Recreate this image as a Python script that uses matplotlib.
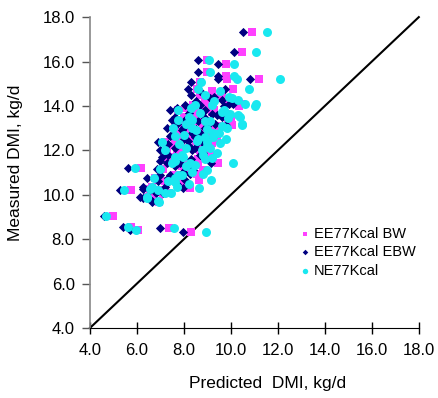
import matplotlib
matplotlib.use("Agg")
import matplotlib.pyplot as plt
import numpy as np

plt.rcParams['font.family'] = ['Liberation Sans', 'DejaVu Sans']

# measured DMI (kg/d) and predicted DMI for each method, one row per animal/period
measured = [17.33, 16.43, 16.07, 15.89, 15.53, 15.35, 15.22, 15.22, 15.08, 14.77,
            14.77, 14.68, 14.36, 14.27, 14.09, 14.00, 14.05, 13.82, 14.05, 13.73,
            13.59, 13.46, 13.64, 13.37, 13.37, 13.32, 13.19, 13.14, 13.01, 13.01,
            12.96, 13.01, 12.78, 12.65, 12.60, 12.60, 12.38, 12.42, 12.38, 12.33,
            12.02, 12.02, 12.11, 11.70, 11.70, 11.79, 11.66, 11.43, 11.43, 11.43,
            11.34, 11.21, 11.16, 11.03, 10.94, 10.89, 10.76, 10.76, 10.67, 10.58,
            10.35, 10.35, 10.31, 10.22, 10.26, 10.22, 10.08, 9.90, 9.72, 9.86,
            9.68, 9.05, 8.55, 8.41, 8.50, 8.32,
            14.50, 14.40, 14.20, 14.10, 13.90, 13.80, 13.70, 13.50, 13.50, 13.30,
            13.20, 13.10, 12.90, 12.80, 12.70, 12.50, 12.50, 12.30, 12.20, 12.10,
            11.90, 11.80, 11.60, 11.50, 11.30, 11.10, 10.90, 10.60, 10.50, 10.10]

pred_ebw = [10.51, 10.13, 8.60, 9.45, 8.60, 9.45, 9.45, 10.81, 8.30, 8.17,
            9.74, 8.68, 9.11, 9.62, 10.09, 9.70, 8.04, 7.40, 8.68, 8.81,
            9.40, 8.89, 9.19, 7.49, 8.04, 8.60, 9.32, 9.79, 7.28, 7.96,
            8.51, 8.89, 8.34, 7.40, 8.47, 8.68, 6.89, 8.17, 8.60, 8.81,
            6.98, 8.34, 8.47, 7.06, 7.62, 8.68, 8.89, 9.15, 7.28, 7.83,
            8.26, 5.60, 6.85, 7.96, 8.26, 6.98, 6.43, 7.32, 8.04, 7.32,
            6.26, 7.19, 7.96, 5.28, 6.26, 6.55, 7.11, 6.13, 6.64, 6.26,
            6.64, 4.60, 5.40, 5.70, 6.98, 7.96,
            8.30, 9.30, 8.50, 9.90, 7.70, 8.90, 8.20, 7.60, 9.60, 8.30,
            7.70, 9.00, 7.90, 8.70, 7.50, 8.00, 9.00, 7.30, 8.20, 7.60,
            8.80, 7.30, 8.30, 7.00, 7.60, 8.40, 7.40, 6.90, 7.70, 6.80]

pred_bw = [10.89, 10.47, 8.98, 9.79, 8.98, 9.79, 9.83, 11.19, 8.68, 8.55,
           10.09, 9.19, 9.45, 9.74, 10.47, 10.34, 8.38, 7.74, 8.89, 9.19,
           9.79, 9.87, 9.79, 7.83, 8.47, 8.89, 9.87, 10.04, 7.62, 8.26,
           8.81, 9.32, 8.89, 7.66, 8.81, 9.11, 7.19, 8.51, 8.94, 9.19,
           7.28, 8.68, 8.89, 7.40, 7.49, 9.02, 9.19, 9.45, 7.62, 8.17,
           8.60, 6.17, 7.11, 8.26, 8.55, 7.62, 6.77, 7.66, 8.64, 7.83,
           6.64, 7.96, 8.26, 5.74, 6.55, 6.89, 7.36, 6.47, 6.94, 6.60,
           6.94, 4.98, 5.74, 6.04, 7.36, 8.30,
           8.70, 9.60, 8.90, 10.20, 8.10, 9.30, 8.50, 8.00, 10.00, 8.60,
           8.00, 9.40, 8.20, 9.10, 7.80, 8.30, 9.40, 7.60, 8.60, 7.90,
           9.10, 7.70, 8.60, 7.30, 7.90, 8.80, 7.70, 7.20, 8.00, 7.10]

pred_ne = [11.53, 11.06, 9.06, 10.13, 9.11, 10.13, 10.26, 12.09, 8.72, 8.60,
           10.77, 9.53, 10.04, 10.30, 11.06, 11.02, 8.47, 7.74, 9.18, 9.62,
           10.30, 9.87, 9.96, 7.74, 8.34, 9.11, 10.47, 10.47, 7.53, 8.34,
           8.98, 9.83, 9.23, 7.62, 8.89, 9.23, 7.06, 8.55, 8.98, 9.53,
           7.19, 8.77, 9.11, 7.62, 7.96, 8.81, 9.19, 10.09, 7.49, 8.26,
           8.47, 5.91, 6.98, 8.34, 8.81, 7.74, 6.72, 7.62, 9.15, 7.62,
           6.64, 7.70, 8.64, 5.45, 6.55, 6.89, 7.45, 6.43, 6.89, 6.43,
           6.94, 4.68, 5.62, 5.96, 7.57, 8.94,
           8.90, 9.90, 9.30, 10.60, 8.30, 9.70, 8.70, 8.20, 10.40, 8.90,
           8.10, 9.60, 8.50, 9.50, 8.00, 8.60, 9.80, 7.80, 9.00, 8.10,
           9.40, 7.90, 8.90, 7.60, 8.10, 9.00, 7.90, 7.30, 8.20, 7.20]

ticks = [4.0, 6.0, 8.0, 10.0, 12.0, 14.0, 16.0, 18.0]

fig = plt.figure(figsize=(4.39, 3.98), dpi=100)
ax = fig.add_axes([0.205, 0.176, 0.749, 0.781])

ax.plot([4, 18], [4, 18], color='black', lw=1.5, zorder=1, clip_on=False)
ax.scatter(pred_bw, measured, marker='s', s=32, color='#ff40ff', lw=0,
           label='EE77Kcal BW', zorder=2)
ax.scatter(pred_ebw, measured, marker='D', s=22, color='#000080', lw=0,
           label='EE77Kcal EBW', zorder=3)
ax.scatter(pred_ne, measured, marker='o', s=42, color='#19e8f0', lw=0,
           label='NE77Kcal', zorder=4)

ax.set_xlim(4, 18)
ax.set_ylim(4, 18)
ax.set_xticks(ticks)
ax.set_yticks(ticks)
ax.set_xticklabels([f'{t:.1f}' for t in ticks])
ax.set_yticklabels([f'{t:.1f}' for t in ticks])

for s in ['top', 'right']:
    ax.spines[s].set_visible(False)
ax.spines['bottom'].set_color('black')
ax.spines['left'].set_color('#888888')
ax.spines['left'].set_linewidth(1.2)
ax.tick_params(axis='x', direction='inout', length=8, width=1, color='black',
               labelsize=12, pad=7)
ax.tick_params(axis='y', direction='out', length=6, width=1, color='#555555',
               labelsize=12, pad=5)

ax.set_xlabel('Predicted  DMI, kg/d', fontsize=12.5)
ax.xaxis.set_label_coords(0.541, -0.155)
ax.set_ylabel('Measured DMI, kg/d', fontsize=12.5)
ax.yaxis.set_label_coords(-0.205, 0.53)

ax.legend(loc='upper left', bbox_to_anchor=(0.641, 0.325), frameon=False,
          fontsize=10.5, markerscale=0.6, handlelength=0.6, handletextpad=0.3,
          labelspacing=0.3, borderpad=0, borderaxespad=0)

fig.savefig('out.png', dpi=100)
